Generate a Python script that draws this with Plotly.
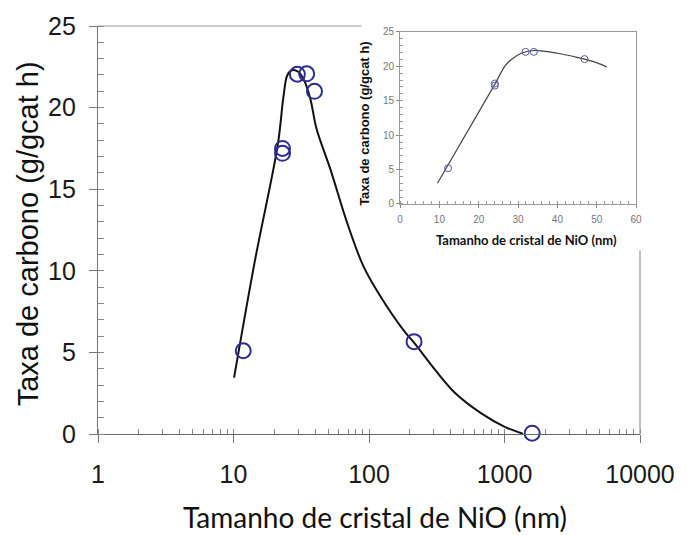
import plotly.graph_objects as go

# ---- main chart data (log x) ----
main_pts_x = [11.8, 23.0, 23.0, 29.6, 34.7, 39.6, 215, 1600]
main_pts_y = [5.1, 17.5, 17.2, 22.05, 22.07, 21.0, 5.66, 0.05]
main_fit_x = [10.1, 14.3, 21.2, 23.4, 25.0, 27.2, 30.0, 33.1, 37.0, 41.0, 52.0, 68.6, 90.7, 120, 182, 215, 310, 434, 679, 1004, 1365]
main_fit_y = [3.45, 10.5, 17.7, 20.7, 22.0, 22.3, 22.2, 21.7, 20.5, 18.7, 16.2, 13.0, 10.3, 8.5, 6.3, 5.6, 3.9, 2.5, 1.25, 0.44, 0.02]
main_xticks = [1, 10, 100, 1000, 10000]
main_xticktext = ["1", "10", "100", "1000", "10000"]
main_yticks = [0, 5, 10, 15, 20, 25]

# ---- inset data (linear x) ----
ins_pts_x = [12.2, 24.1, 24.1, 31.9, 34.0, 46.9]
ins_pts_y = [5.2, 17.5, 17.2, 22.1, 22.1, 21.05]
ins_fit_x = [9.5, 24.0, 26.6, 28.3, 30.8, 34.1, 40.0, 45.0, 50.1, 52.6]
ins_fit_y = [3.0, 17.3, 20.0, 21.0, 21.9, 22.3, 21.9, 21.3, 20.5, 19.9]
ins_xticks = [0, 10, 20, 30, 40, 50, 60]
ins_yticks = [0, 5, 10, 15, 20, 25]

W, H = 687, 535
L, R, T, B = 98, 40, 19, 101
pw, ph = W - L - R, H - T - B

def px_x(p):
    return (p - L) / pw

def px_y(p):
    return (H - B - p) / ph

fig = go.Figure()

fig.add_trace(go.Scatter(x=main_fit_x, y=main_fit_y, mode="lines",
                         line=dict(color="#111111", width=2, shape="spline", smoothing=1.0),
                         xaxis="x", yaxis="y", showlegend=False, hoverinfo="skip"))
fig.add_trace(go.Scatter(x=main_pts_x, y=main_pts_y, mode="markers",
                         marker=dict(symbol="circle-open", size=15, color="#2f2b94",
                                     line=dict(width=2, color="#2f2b94")),
                         cliponaxis=False, xaxis="x", yaxis="y", showlegend=False))

fig.add_trace(go.Scatter(x=ins_fit_x, y=ins_fit_y, mode="lines",
                         line=dict(color="#444444", width=1.2, shape="spline", smoothing=0.8),
                         xaxis="x2", yaxis="y2", showlegend=False, hoverinfo="skip"))
fig.add_trace(go.Scatter(x=ins_pts_x, y=ins_pts_y, mode="markers",
                         marker=dict(symbol="circle-open", size=7, color="#5a5a9e",
                                     line=dict(width=1, color="#5a5a9e")),
                         cliponaxis=False, xaxis="x2", yaxis="y2", showlegend=False))

tickfont_main = dict(family="Liberation Sans, Arial", size=25, color="#1a1a1a")
tickfont_ins = dict(family="Liberation Sans, Arial", size=10, color="#777777")

fig.update_layout(
    width=W, height=H,
    margin=dict(l=L, r=R, t=T, b=B, pad=0),
    paper_bgcolor="white", plot_bgcolor="white",
    xaxis=dict(type="log", range=[0, 4], domain=[0, 1],
               tickvals=main_xticks, ticktext=main_xticktext,
               ticks="outside", ticklen=8, tickcolor="#777777", tickwidth=1,
               showline=True, linecolor="#666666", linewidth=1.2,
               showgrid=False, zeroline=False, tickfont=tickfont_main,
               ticklabelstandoff=10,
               minor=dict(ticks="inside", ticklen=5, dtick="D1", tickcolor="#888888", showgrid=False)),
    yaxis=dict(range=[0, 25], domain=[0, 1], tickvals=main_yticks,
               ticks="outside", ticklen=8, tickcolor="#777777", tickwidth=1,
               showline=True, linecolor="#777777", linewidth=1.2,
               showgrid=False, zeroline=False, tickfont=tickfont_main,
               ticklabelstandoff=8,
               minor=dict(ticks="inside", ticklen=6, dtick=1, tickcolor="#888888", showgrid=False)),
    xaxis2=dict(range=[0, 60], domain=[px_x(404), px_x(643)], anchor="y2",
                tickvals=ins_xticks, ticks="outside", ticklen=3, tickcolor="#888888",
                showline=True, mirror=True, linecolor="#999999", linewidth=1,
                showgrid=False, zeroline=False, tickfont=tickfont_ins,
                ticklabelstandoff=3,
                minor=dict(ticks="inside", ticklen=3, dtick=2, tickcolor="#999999", showgrid=False)),
    yaxis2=dict(range=[0, 25], domain=[px_y(200), px_y(25)], anchor="x2",
                tickvals=ins_yticks, ticks="outside", ticklen=3, tickcolor="#888888",
                showline=True, mirror=True, linecolor="#999999", linewidth=1,
                showgrid=False, zeroline=False, tickfont=tickfont_ins,
                minor=dict(ticks="inside", ticklen=3, dtick=1, tickcolor="#999999", showgrid=False)),
    shapes=[
        dict(type="line", xref="paper", yref="paper", x0=0, x1=px_x(365), y0=1, y1=1,
             line=dict(color="#999999", width=1.2)),
        dict(type="line", xref="paper", yref="paper", x0=1, x1=1, y0=0, y1=px_y(247),
             line=dict(color="#999999", width=1.2)),
    ],
    annotations=[
        dict(text="Tamanho de cristal de NiO (nm)", xref="paper", yref="paper",
             x=px_x(378.5), y=px_y(518), xanchor="center", yanchor="middle", showarrow=False,
             font=dict(family="Lato, Open Sans", size=28, color="#111111")),
        dict(text="Taxa de carbono (g/gcat h)", xref="paper", yref="paper", textangle=-90,
             x=px_x(28), y=px_y(230), xanchor="center", yanchor="middle", showarrow=False,
             font=dict(family="Liberation Sans, Arial", size=29, color="#111111")),
        dict(text="<b>Tamanho de cristal de NiO (nm)</b>", xref="paper", yref="paper",
             x=px_x(532), y=px_y(237), xanchor="center", yanchor="middle", showarrow=False,
             font=dict(family="Lato, Open Sans", size=13, color="#111111")),
        dict(text="<b>Taxa de carbono (g/gcat h)</b>", xref="paper", yref="paper", textangle=-90,
             x=px_x(368), y=px_y(119), xanchor="center", yanchor="middle", showarrow=False,
             font=dict(family="Liberation Sans, Arial", size=13, color="#111111")),
    ],
)

fig.write_html("out.html")
